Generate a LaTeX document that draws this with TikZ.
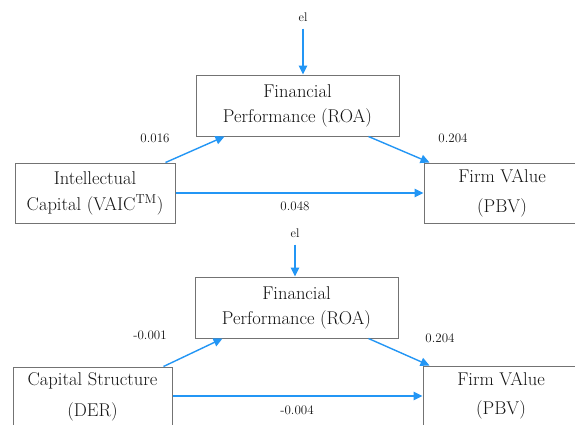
\documentclass[tikz,border=0pt]{standalone}
\usetikzlibrary{arrows.meta}
\definecolor{arrowblue}{RGB}{35,150,245}
\definecolor{boxgray}{RGB}{115,115,115}
\definecolor{txtgray}{RGB}{20,20,20}
\tikzset{
  varbox/.style={draw=boxgray, line width=1pt, rectangle, inner sep=0pt, align=center, text=txtgray},
  coef/.style={font=\fontsize{13}{15}\selectfont, text=txtgray, inner sep=0pt},
  errlbl/.style={font=\fontsize{12.5}{14}\selectfont, text=txtgray, inner sep=1pt},
  path/.style={draw=arrowblue, line width=1.4pt, -{Triangle[length=9pt,width=8.5pt]}}
}
\begin{document}
\begin{tikzpicture}[x=1pt,y=-1pt]
\useasboundingbox (0,0) rectangle (575,424);
\clip (0,0) rectangle (575,424);
\fill[white] (0,0) rectangle (575,424);
% ---------- top model ----------
\node[varbox, minimum width=203pt, minimum height=61pt, font=\fontsize{18.5}{25}\selectfont] (roa1) at (297.5,105.5) {Financial\\Performance (ROA)};
\node[varbox, minimum width=160pt, minimum height=60pt, font=\fontsize{18.5}{26}\selectfont] (ic) at (95,193) {Intellectual\\Capital (VAIC\textsuperscript{TM})};
\node[varbox, minimum width=156pt, minimum height=60pt, font=\fontsize{18.5}{30}\selectfont] (fv1) at (502,193) {Firm VAlue\\(PBV)};
\node[errlbl] (el1) at (303,17) {el};
\node[coef] (c016) at (155,138) {0.016};
\node[coef] (c204a) at (453,138) {0.204};
\node[coef] (c048) at (295,206) {0.048};
\draw[path] ([yshift=-6pt]el1.south) -- (el1.south |- roa1.north);
\draw[path] ([xshift=-10pt]ic.north east) -- ([xshift=29pt]roa1.south west);
\draw[path] ([xshift=-31pt]roa1.south east) -- ([xshift=6pt]fv1.north west);
\draw[path] (ic.east) -- (ic.east -| fv1.west);
% ---------- bottom model ----------
\node[varbox, minimum width=203pt, minimum height=61pt, font=\fontsize{18.5}{25}\selectfont] (roa2) at (296.5,307.5) {Financial\\Performance (ROA)};
\node[varbox, minimum width=159pt, minimum height=60pt, font=\fontsize{18.5}{31}\selectfont] (cs) at (92.5,397) {Capital Structure\\(DER)};
\node[varbox, minimum width=156pt, minimum height=60pt, font=\fontsize{18.5}{29}\selectfont] (fv2) at (501,396) {Firm VAlue\\(PBV)};
\node[errlbl] (el2) at (295,233) {el};
\node[coef] (c001) at (150,335) {-0.001};
\node[coef] (c204b) at (440,338) {0.204};
\node[coef] (c004) at (297,410) {-0.004};
\draw[path] ([yshift=-6pt]el2.south) -- (el2.south |- roa2.north);
\draw[path] ([xshift=-9pt]cs.north east) -- ([xshift=28pt]roa2.south west);
\draw[path] ([xshift=-30pt]roa2.south east) -- ([xshift=7pt]fv2.north west);
\draw[path] (cs.east |- fv2.west) -- (fv2.west);
\end{tikzpicture}
\end{document}
